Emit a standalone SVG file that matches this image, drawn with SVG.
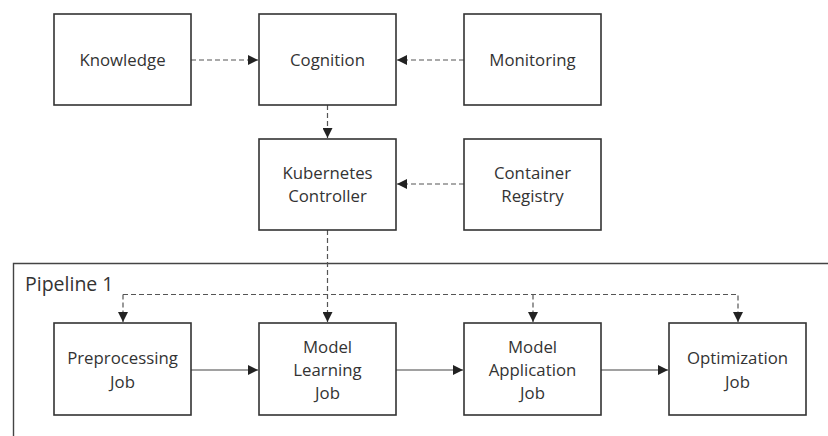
<svg xmlns="http://www.w3.org/2000/svg" width="828" height="436" viewBox="0 0 828 436">
<style>
.box{fill:#fff;stroke:#333;stroke-width:1.6}
.frame{fill:none;stroke:#444;stroke-width:1.4}
text{font-family:"Open Sans","Noto Sans","Liberation Sans",sans-serif;font-size:16.8px;fill:#333;text-anchor:middle}
.title{text-anchor:start;font-size:19.5px}
.dash{fill:none;stroke:#555;stroke-width:1.2;stroke-dasharray:5,3}
.solid{fill:none;stroke:#444;stroke-width:1.2}
</style>
<defs>
<marker id="ah" viewBox="0 0 10 10" refX="10" refY="5" markerWidth="10" markerHeight="10" markerUnits="userSpaceOnUse" orient="auto">
<path d="M0,0 L10,5 L0,10 Z" fill="#222"/>
</marker>
</defs>
<rect width="828" height="436" fill="#fff"/>
<g id="pipeline1">
<path class="frame" d="M13.5,436 V263.5 H828"/>
<text class="title" x="25" y="291">Pipeline 1</text>
</g>
<g id="connectors">
<line class="dash" x1="191" y1="60" x2="258" y2="60" marker-end="url(#ah)"/>
<line class="dash" x1="464" y1="60" x2="397" y2="60" marker-end="url(#ah)"/>
<line class="dash" x1="327.5" y1="105" x2="327.5" y2="138" marker-end="url(#ah)"/>
<line class="dash" x1="464" y1="184" x2="397" y2="184" marker-end="url(#ah)"/>
<line class="dash" x1="327.5" y1="230" x2="327.5" y2="322" marker-end="url(#ah)"/>
<path class="dash" d="M123,294.5 H738 V322" marker-end="url(#ah)"/>
<path class="dash" d="M123,294.5 V322" marker-end="url(#ah)"/>
<line class="dash" x1="533" y1="294.5" x2="533" y2="322" marker-end="url(#ah)"/>
<line class="solid" x1="191" y1="370" x2="258" y2="370" marker-end="url(#ah)"/>
<line class="solid" x1="601" y1="370" x2="668" y2="370" marker-end="url(#ah)"/>
<line class="solid" x1="396" y1="370" x2="463" y2="370" marker-end="url(#ah)"/>
</g>
<g id="knowledge">
<rect class="box" x="54" y="14" width="137" height="91"/>
<text x="122.5" y="66">Knowledge</text>
</g>
<g id="cognition">
<rect class="box" x="259" y="14" width="137" height="91"/>
<text x="327.5" y="66">Cognition</text>
</g>
<g id="monitoring">
<rect class="box" x="464" y="14" width="137" height="91"/>
<text x="532.5" y="66">Monitoring</text>
</g>
<g id="kubernetes-controller">
<rect class="box" x="259" y="139" width="137" height="91"/>
<text x="327.5" y="179">Kubernetes</text>
<text x="327.5" y="202">Controller</text>
</g>
<g id="container-registry">
<rect class="box" x="464" y="139" width="137" height="91"/>
<text x="532.5" y="179">Container</text>
<text x="532.5" y="202">Registry</text>
</g>
<g id="preprocessing-job">
<rect class="box" x="54" y="323" width="137" height="92"/>
<text x="122.5" y="364">Preprocessing</text>
<text x="122.5" y="387.5">Job</text>
</g>
<g id="model-learning-job">
<rect class="box" x="259" y="323" width="137" height="92"/>
<text x="327.5" y="352.5">Model</text>
<text x="327.5" y="376">Learning</text>
<text x="327.5" y="399">Job</text>
</g>
<g id="model-application-job">
<rect class="box" x="464" y="323" width="137" height="92"/>
<text x="532.5" y="352.5">Model</text>
<text x="532.5" y="376">Application</text>
<text x="532.5" y="399">Job</text>
</g>
<g id="optimization-job">
<rect class="box" x="669" y="323" width="137" height="92"/>
<text x="737.5" y="364">Optimization</text>
<text x="737.5" y="387.5">Job</text>
</g>
</svg>
